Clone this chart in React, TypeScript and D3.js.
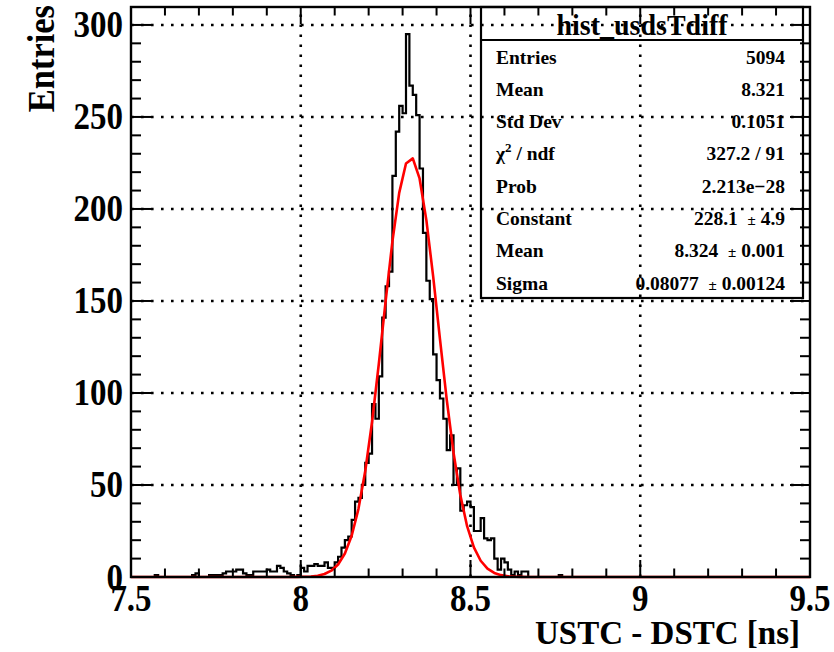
import React from "react";
import * as d3 from "d3";

// Histogram binning: 200 bins of 0.01 ns between 7.5 and 9.5 ns
const xRange: [number, number] = [7.5, 9.5];
const binCount = 200;

// Bin contents, bin 0 starts at 7.50 ns (rows of 20 bins)
const counts: number[] = [
  0, 0, 0, 0, 0, 0, 0, 1, 0, 0, 0, 0, 0, 0, 0, 0, 0, 0, 1, 2,
  0, 0, 0, 1, 1, 1, 1, 2, 3, 3, 3, 4, 4, 2, 1, 1, 3, 3, 3, 3,
  4, 3, 3, 6, 5, 3, 2, 1, 0, 1, 5, 3, 6, 6, 7, 6, 6, 8, 5, 5,
  8, 11, 16, 20, 22, 31, 41, 43, 50, 62, 67, 94, 86, 109, 141, 158, 166, 218, 242, 256,
  252, 295, 267, 262, 251, 222, 187, 161, 151, 121, 107, 97, 86, 69, 77, 50, 59, 36, 39, 41,
  38, 25, 25, 32, 21, 20, 21, 10, 4, 10, 8, 4, 1, 3, 1, 3, 3, 0, 0, 0,
  0, 0, 0, 0, 0, 0, 1, 0, 0, 0, 0, 0, 0, 0, 0, 0, 0, 0, 0, 0,
  0, 0, 0, 0, 0, 0, 0, 0, 0, 0, 0, 0, 0, 0, 0, 0, 0, 0, 0, 0,
  0, 0, 0, 0, 0, 0, 0, 0, 0, 0, 0, 0, 0, 0, 0, 0, 0, 0, 0, 0,
  0, 0, 0, 0, 0, 0, 0, 0, 0, 0, 0, 0, 0, 0, 0, 0, 0, 0, 0, 0,
];

// Gaussian fit result
const fitConstant = 228.1;
const fitMean = 8.324;
const fitSigma = 0.08077;
const fitPoints = 100;

// Axes
const xTickValues = [7.5, 8, 8.5, 9, 9.5];
const xTickLabels = ["7.5", "8", "8.5", "9", "9.5"];
const xGridValues = [8, 8.5, 9];
const yTickValues = [0, 50, 100, 150, 200, 250, 300];
const yTickLabels = ["0", "50", "100", "150", "200", "250", "300"];
const yGridValues = [50, 100, 150, 200, 250, 300];
const xTitle = "USTC - DSTC [ns]";
const yTitle = "Entries";

// Statistics box
const statsTitle = "hist_usdsTdiff";
const statNames = ["Entries", "Mean", "Std Dev", "chi2", "Prob", "Constant", "Mean", "Sigma"];
const statValues = ["5094", "8.321", "0.1051", "327.2 / 91", "2.213e\u221228", "228.1", "8.324", "0.08077"];
const statErrors = ["", "", "", "", "", "4.9", "0.001", "0.00124"];

const FONT = "'Liberation Serif', 'Times New Roman', serif";
// axis text is drawn slightly taller than the plain font
const STRETCH = 1.12;

export default function App() {
  const W = 834;
  const H = 652;
  const frame = { left: 131, right: 810, top: 7, bottom: 577 };

  const x = d3.scaleLinear().domain(xRange).range([frame.left, frame.right]);
  const yMax = 1.05 * (d3.max(counts) as number);
  const y = d3.scaleLinear().domain([0, yMax]).range([frame.bottom, frame.top]);

  const binW = (xRange[1] - xRange[0]) / binCount;

  // Step outline of the histogram
  const histPts: [number, number][] = [[x(xRange[0]), y(0)]];
  counts.forEach((c, i) => {
    const lo = xRange[0] + i * binW;
    const hi = lo + binW;
    histPts.push([x(lo), y(c)], [x(hi), y(c)]);
  });
  histPts.push([x(xRange[1]), y(0)]);
  const histPath = d3.line()(histPts) as string;

  // Fit curve sampled like a TF1 with npx points
  const gaus = (v: number) => fitConstant * Math.exp(-0.5 * ((v - fitMean) / fitSigma) ** 2);
  const step = (xRange[1] - xRange[0]) / fitPoints;
  const fx = [xRange[0], ...d3.range(fitPoints).map((i) => xRange[0] + (i + 0.5) * step), xRange[1]];
  const fitPath = d3
    .line<number>()
    .x((v) => x(v))
    .y((v) => y(gaus(v)))(fx) as string;

  const xMinor = d3.range(0, 21).map((i) => xRange[0] + i * 0.1);
  const yMinor = d3.range(0, 31).map((i) => i * 10);
  const majX = 17;
  const minX = 8.5;
  const majY = 20;
  const minY = 10;

  const box = { left: 481, right: 803, top: 7, bottom: 298, sep: 40 };
  const rowY0 = 63.5;
  const rowDy = 32.3;

  return (
    <svg width={W} height={H} style={{ display: "block", background: "#fff" }} fontFamily={FONT} fontWeight="bold">
      <style>{`body{margin:0}`}</style>
      <rect x={0} y={0} width={W} height={H} fill="#fff" />

      {/* dotted grid */}
      <g stroke="#000" strokeWidth={2.6} strokeDasharray="2.6 7.4">
        {xGridValues.map((v) => (
          <line key={`gx${v}`} x1={x(v)} x2={x(v)} y1={frame.bottom} y2={frame.top} />
        ))}
        {yGridValues.map((v) => (
          <line key={`gy${v}`} x1={frame.left} x2={frame.right} y1={y(v)} y2={y(v)} />
        ))}
      </g>

      {/* histogram */}
      <path d={histPath} fill="none" stroke="#000" strokeWidth={2.2} strokeLinejoin="miter" />

      {/* gaussian fit */}
      <path d={fitPath} fill="none" stroke="#ff0000" strokeWidth={2.6} strokeLinejoin="round" />

      {/* ticks */}
      <g stroke="#000" strokeWidth={2}>
        {xMinor.map((v, i) => {
          const len = i % 5 === 0 ? majX : minX;
          return (
            <g key={`tx${i}`}>
              <line x1={x(v)} x2={x(v)} y1={frame.bottom} y2={frame.bottom - len} />
              <line x1={x(v)} x2={x(v)} y1={frame.top} y2={frame.top + len} />
            </g>
          );
        })}
        {yMinor.map((v, i) => {
          const len = i % 5 === 0 ? majY : minY;
          return (
            <g key={`ty${i}`}>
              <line x1={frame.left} x2={frame.left + len} y1={y(v)} y2={y(v)} />
              <line x1={frame.right} x2={frame.right - len} y1={y(v)} y2={y(v)} />
            </g>
          );
        })}
      </g>

      {/* frame */}
      <rect
        x={frame.left}
        y={frame.top}
        width={frame.right - frame.left}
        height={frame.bottom - frame.top}
        fill="none"
        stroke="#000"
        strokeWidth={2.4}
      />

      {/* tick labels */}
      <g fontSize={33} fill="#000">
        {xTickValues.map((v, i) => (
          <text
            key={`lx${i}`}
            transform={`translate(${x(v)},611) scale(1,${STRETCH})`}
            textAnchor="middle"
          >
            {xTickLabels[i]}
          </text>
        ))}
        {yTickValues.map((v, i) => (
          <text
            key={`ly${i}`}
            transform={`translate(123,${y(v) + 12.5}) scale(1,${STRETCH})`}
            textAnchor="end"
          >
            {yTickLabels[i]}
          </text>
        ))}
      </g>

      {/* axis titles */}
      <text x={800} y={644} fontSize={33} textAnchor="end" fill="#000">
        {xTitle}
      </text>
      <text
        transform={`translate(54,5) rotate(-90) scale(1,${STRETCH})`}
        fontSize={34.5}
        textAnchor="end"
        fill="#000"
      >
        {yTitle}
      </text>

      {/* statistics box */}
      <g>
        <rect
          x={box.left}
          y={box.top}
          width={box.right - box.left}
          height={box.bottom - box.top}
          fill="none"
          stroke="#000"
          strokeWidth={2.2}
        />
        <line x1={box.left} x2={box.right} y1={box.sep} y2={box.sep} stroke="#000" strokeWidth={2.2} />
        <text
          transform={`translate(${(box.left + box.right) / 2},35) scale(1,1.08)`}
          fontSize={28}
          textAnchor="middle"
          fill="#000"
        >
          {statsTitle}
        </text>
        <g fontSize={19.5} fill="#000">
          {statNames.map((n, i) => (
            <text key={`sn${i}`} x={496} y={rowY0 + i * rowDy}>
              {n === "chi2" ? (
                <>
                  {"\u03c7"}
                  <tspan fontSize={13} dy={-8}>
                    2
                  </tspan>
                  <tspan dy={8}>{" / ndf"}</tspan>
                </>
              ) : (
                n
              )}
            </text>
          ))}
          {statValues.map((v, i) => (
            <text key={`sv${i}`} x={785} y={rowY0 + i * rowDy} textAnchor="end" xmlSpace="preserve">
              {statErrors[i] ? (
                <>
                  {v + "  "}
                  <tspan fontSize={15}>{"\u00b1"}</tspan>
                  {" " + statErrors[i]}
                </>
              ) : (
                v
              )}
            </text>
          ))}
        </g>
      </g>
    </svg>
  );
}
